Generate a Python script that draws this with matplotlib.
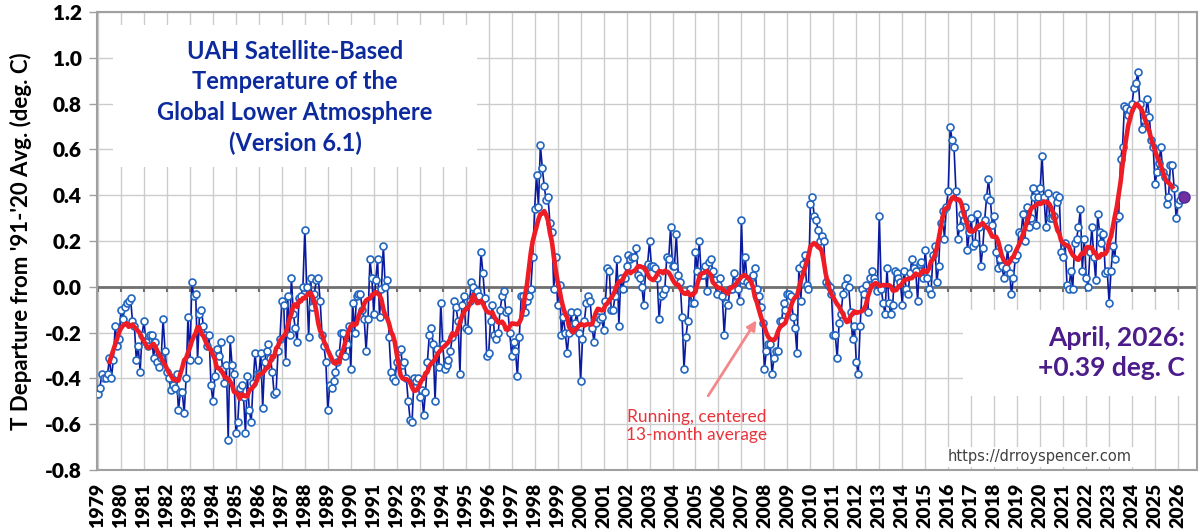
import numpy as np
import pandas as pd
import matplotlib
matplotlib.use("Agg")
import matplotlib.pyplot as plt
from matplotlib.patches import Rectangle

plt.rcParams['font.family'] = ['Lato', 'DejaVu Sans']
plt.rcParams['axes.unicode_minus'] = False

# Global lower troposphere anomaly (deg C vs 1991-2020), Jan..Dec of each year
t1979 = [-0.47, -0.44, -0.38, -0.40, -0.40, -0.38, -0.31, -0.40, -0.32, -0.17, -0.26, -0.23]
t1980 = [-0.10, -0.14, -0.09, -0.07, -0.06, -0.05, -0.15, -0.17, -0.32, -0.26, -0.37, -0.21]
t1981 = [-0.15, -0.24, -0.26, -0.21, -0.21, -0.31, -0.24, -0.33, -0.35, -0.31, -0.14, -0.28]
t1982 = [-0.37, -0.40, -0.45, -0.43, -0.44, -0.38, -0.54, -0.46, -0.46, -0.55, -0.40, -0.13]
t1983 = [-0.32, 0.02, -0.04, -0.03, -0.32, -0.12, -0.10, -0.17, -0.21, -0.26, -0.21, -0.43]
t1984 = [-0.50, -0.39, -0.27, -0.30, -0.24, -0.36, -0.42, -0.34, -0.67, -0.23, -0.34, -0.38]
t1985 = [-0.64, -0.59, -0.44, -0.43, -0.48, -0.64, -0.39, -0.54, -0.59, -0.42, -0.29, -0.38]
t1986 = [-0.38, -0.29, -0.53, -0.33, -0.28, -0.25, -0.31, -0.37, -0.47, -0.46, -0.28, -0.23]
t1987 = [-0.06, -0.08, -0.33, -0.04, -0.21, 0.04, -0.12, -0.18, -0.24, -0.05, -0.04, 0.00]
t1988 = [0.25, 0.00, -0.22, 0.04, -0.09, -0.03, 0.03, 0.04, -0.06, -0.21, -0.26, -0.33]
t1989 = [-0.54, -0.43, -0.44, -0.41, -0.37, -0.33, -0.29, -0.20, -0.20, -0.30, -0.25, -0.17]
t1990 = [-0.36, -0.07, -0.20, -0.04, -0.03, -0.03, -0.10, -0.14, -0.28, -0.14, 0.12, 0.04]
t1991 = [-0.12, 0.03, 0.12, -0.13, -0.01, 0.18, 0.00, 0.03, -0.22, -0.37, -0.40, -0.41]
t1992 = [-0.33, -0.28, -0.27, -0.34, -0.33, -0.40, -0.50, -0.58, -0.59, -0.40, -0.41, -0.40]
t1993 = [-0.48, -0.45, -0.56, -0.46, -0.33, -0.21, -0.18, -0.25, -0.50, -0.27, -0.35, -0.07]
t1994 = [-0.25, -0.36, -0.34, -0.32, -0.28, -0.22, -0.06, -0.09, -0.15, -0.38, -0.08, -0.04]
t1995 = [-0.18, -0.19, -0.06, 0.02, 0.00, -0.03, -0.02, -0.04, 0.15, 0.06, -0.05, -0.30]
t1996 = [-0.29, -0.15, -0.08, -0.21, -0.23, -0.20, -0.10, -0.04, -0.02, -0.11, -0.10, -0.20]
t1997 = [-0.30, -0.24, -0.28, -0.39, -0.22, -0.04, -0.04, -0.11, -0.06, -0.04, -0.01, 0.13]
t1998 = [0.34, 0.49, 0.35, 0.62, 0.52, 0.44, 0.38, 0.39, 0.28, 0.24, -0.01, 0.13]
t1999 = [-0.08, 0.01, -0.21, -0.13, -0.20, -0.29, -0.20, -0.11, -0.19, -0.16, -0.11, -0.20]
t2000 = [-0.41, -0.23, -0.15, -0.07, -0.04, -0.06, -0.18, -0.24, -0.16, -0.13, -0.14, -0.13]
t2001 = [-0.19, -0.06, 0.08, 0.07, -0.10, -0.10, -0.04, 0.12, -0.17, 0.04, -0.01, 0.04]
t2002 = [0.09, 0.14, 0.12, 0.13, 0.13, 0.17, 0.05, 0.04, 0.00, -0.08, 0.08, 0.10]
t2003 = [0.20, 0.09, 0.09, 0.08, 0.04, -0.14, -0.04, -0.03, -0.01, 0.13, 0.12, 0.26]
t2004 = [0.09, 0.09, 0.23, 0.05, 0.02, -0.13, -0.36, -0.22, -0.15, -0.01, -0.07, -0.07]
t2005 = [0.15, 0.07, 0.20, 0.05, 0.05, 0.09, -0.02, 0.11, 0.12, 0.07, 0.03, -0.03]
t2006 = [0.01, 0.04, -0.04, -0.21, -0.07, -0.08, -0.01, -0.01, 0.06, 0.02, -0.01, -0.06]
t2007 = [0.29, 0.03, 0.13, 0.02, 0.01, 0.04, 0.05, 0.08, -0.01, -0.04, -0.09, -0.16]
t2008 = [-0.36, -0.28, -0.25, -0.25, -0.38, -0.31, -0.28, -0.28, -0.15, -0.15, -0.07, -0.10]
t2009 = [-0.03, -0.03, -0.04, -0.13, -0.18, -0.29, 0.08, -0.06, 0.10, 0.14, 0.01, -0.01]
t2010 = [0.36, 0.39, 0.31, 0.29, 0.25, 0.20, 0.22, 0.20, 0.02, 0.01, 0.00, -0.03]
t2011 = [-0.21, -0.21, -0.31, -0.16, -0.12, -0.03, 0.01, 0.04, 0.00, -0.11, -0.23, -0.17]
t2012 = [-0.33, -0.38, -0.17, -0.01, -0.03, 0.01, -0.11, 0.04, 0.07, 0.04, 0.02, -0.02]
t2013 = [0.31, -0.01, -0.07, -0.12, 0.08, -0.07, -0.12, -0.08, 0.07, 0.06, 0.04, 0.02]
t2014 = [-0.08, 0.07, -0.01, -0.03, 0.06, 0.12, 0.08, 0.07, -0.06, 0.10, 0.11, 0.04]
t2015 = [0.16, 0.04, -0.01, -0.03, 0.14, 0.18, 0.02, 0.09, 0.28, 0.33, 0.21, 0.35]
t2016 = [0.42, 0.70, 0.64, 0.61, 0.42, 0.21, 0.26, 0.32, 0.29, 0.35, 0.16, 0.24]
t2017 = [0.30, 0.18, 0.19, 0.32, 0.26, 0.09, 0.17, 0.29, 0.39, 0.47, 0.38, 0.27]
t2018 = [0.31, 0.15, 0.08, 0.12, 0.09, 0.04, 0.08, 0.17, 0.06, -0.03, 0.04, 0.12]
t2019 = [0.14, 0.24, 0.23, 0.32, 0.20, 0.35, 0.26, 0.30, 0.43, 0.39, 0.27, 0.39]
t2020 = [0.43, 0.57, 0.39, 0.26, 0.41, 0.30, 0.30, 0.31, 0.40, 0.37, 0.39, 0.15]
t2021 = [0.13, 0.19, 0.01, -0.01, 0.07, -0.01, 0.19, 0.21, 0.26, 0.34, 0.07, 0.21]
t2022 = [0.04, 0.00, 0.15, 0.26, 0.13, 0.03, 0.32, 0.24, 0.19, 0.23, 0.06, 0.07]
t2023 = [-0.07, 0.07, 0.18, 0.12, 0.30, 0.31, 0.56, 0.61, 0.79, 0.78, 0.75, 0.77]
t2024 = [0.80, 0.87, 0.89, 0.94, 0.80, 0.69, 0.73, 0.75, 0.82, 0.74, 0.64, 0.61]
t2025 = [0.45, 0.50, 0.54, 0.61, 0.50, 0.48, 0.36, 0.39, 0.53, 0.53, 0.43, 0.30]
t2026 = [0.36, 0.38, 0.40, 0.39]

by_year = [t1979, t1980, t1981, t1982, t1983, t1984, t1985, t1986, t1987, t1988,
           t1989, t1990, t1991, t1992, t1993, t1994, t1995, t1996, t1997, t1998,
           t1999, t2000, t2001, t2002, t2003, t2004, t2005, t2006, t2007, t2008,
           t2009, t2010, t2011, t2012, t2013, t2014, t2015, t2016, t2017, t2018,
           t2019, t2020, t2021, t2022, t2023, t2024, t2025, t2026]

year_ticks = list(range(1979, 2027))
y_ticks = [-0.8, -0.6, -0.4, -0.2, 0.0, 0.2, 0.4, 0.6, 0.8, 1.0, 1.2]

title_text = "UAH Satellite-Based\nTemperature of the\nGlobal Lower Atmosphere\n(Version 6.1)"
latest_text = "April, 2026:\n+0.39 deg. C"
avg_text = "Running, centered\n13-month average"
url_text = "https://drroyspencer.com"

anom = np.concatenate([np.array(v, dtype=float) for v in by_year])
when = 1979 + np.arange(len(anom)) / 12.0
smooth = pd.Series(anom).rolling(13, center=True).mean().to_numpy()

fig = plt.figure(figsize=(12, 5.32), dpi=100)
ax = fig.add_axes([97 / 1200, 1 - 470 / 532, 1100 / 1200, 458 / 532])

px = 22.98  # pixels per year
ax.set_xlim(1979 - 1 / px, 1979 + 1099 / px)
ax.set_ylim(-0.8, 1.2)

ax.set_axisbelow(True)
ax.grid(True, color='#cccccc', lw=1.0)
for s in ax.spines.values():
    s.set_color('#a0a0a0')
    s.set_linewidth(1.5)

ax.set_xticks(year_ticks)
ax.set_xticklabels([str(y) for y in year_ticks], rotation=90, fontsize=14, fontweight='heavy')
ax.tick_params(axis='x', length=0, pad=9)
ax.set_yticks(y_ticks)
ax.set_yticklabels([f"{v:.1f}" for v in y_ticks], fontsize=15, fontweight='heavy')
ax.tick_params(axis='y', length=6, color='#a0a0a0', width=1, pad=5)
ax.set_ylabel("T Departure from '91-'20 Avg. (deg. C)", fontsize=16, fontweight='bold', labelpad=9)

# zero line with year tick marks
ax.axhline(0, color='#707070', lw=2, zorder=1.2)
ax.vlines(year_ticks, -0.022, 0, color='#707070', lw=1.5, zorder=1.2)

# white panels behind the text blocks
ax.add_patch(Rectangle((1979.65, 0.523), 15.84, 0.62, fc='white', ec='none', zorder=1))
ax.add_patch(Rectangle((2016.64, -0.477), 10.5, 0.376, fc='white', ec='none', zorder=1))

ax.plot(when, anom, '-', color='#0a1a9e', lw=1.2, marker='o', ms=5,
        mfc='white', mec='#2366c0', mew=1.2, zorder=3)
ax.plot(when, smooth, color='#ee1c25', lw=3.3, zorder=4)
ax.plot(when[-1], anom[-1], 'o', ms=8, color='#7030a0', mec='#4b2a9a', zorder=5)

ax.text(1987.57, 0.827, title_text, ha='center', va='center', color='#0c2a9e',
        fontsize=17, fontweight='bold', linespacing=1.38, zorder=6)
ax.text(2026.30, -0.291, latest_text, ha='right', va='center', color='#4b1c8a',
        fontsize=19, fontweight='bold', linespacing=1.3, zorder=6)
ax.text(2005.04, -0.608, avg_text, ha='center', va='center', color='#e8333b',
        fontsize=12.5, linespacing=1.15, zorder=6)
ax.annotate('', xy=(2007.72, -0.136), xytext=(2005.49, -0.486),
            arrowprops=dict(arrowstyle='-|>', color='#f4878a', lw=2, mutation_scale=14), zorder=6)
ax.text(2019.99, -0.743, url_text, ha='center', va='center', color='#404040',
        fontsize=10.5, family=['DejaVu Sans'], zorder=6,
        bbox=dict(fc='white', ec='none', pad=2))

fig.savefig("out.png", dpi=100)
